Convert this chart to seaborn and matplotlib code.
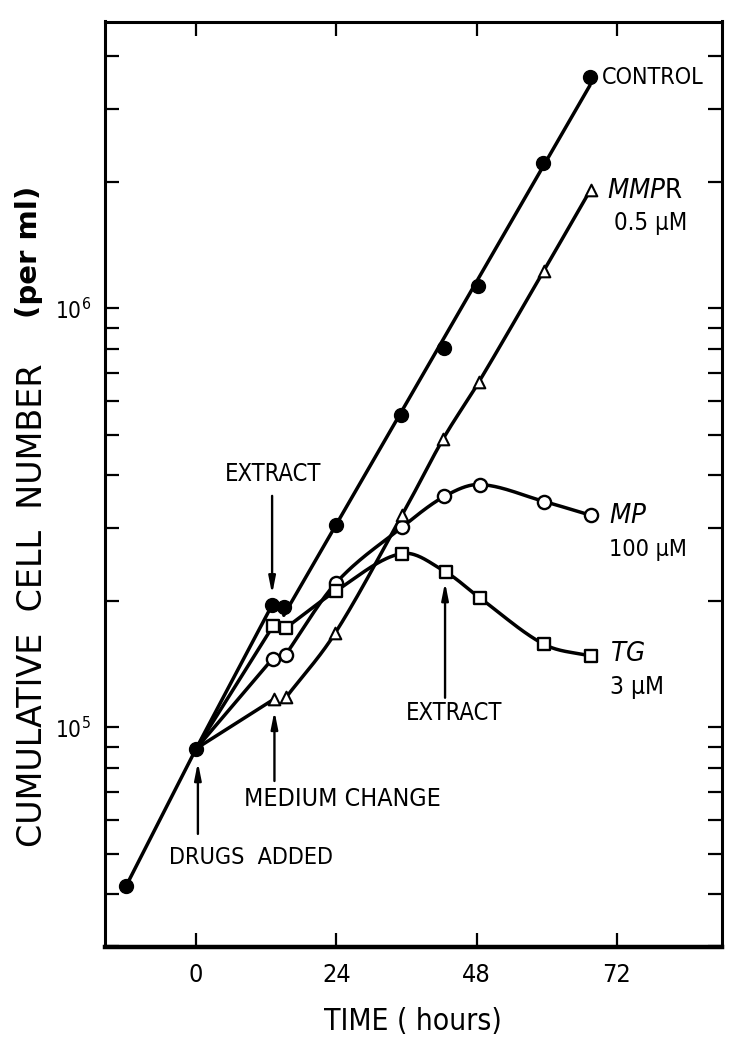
import numpy as np
import matplotlib
matplotlib.use("Agg")
import matplotlib.pyplot as plt
import matplotlib.font_manager as fm
import seaborn as sns
from matplotlib.ticker import FixedLocator, NullFormatter, FixedFormatter

# ---------------- data ----------------
control_t = [-12, 0, 13, 15, 24, 35, 42.5, 48.3, 59.4, 67.4]
control_n = [4.18e4, 8.9e4, 1.96e5, 1.94e5, 3.05e5, 5.58e5, 8.05e5, 1.13e6, 2.23e6, 3.56e6]

mmpr_t = [0, 13.4, 15.4, 23.8, 35.3, 42.3, 48.4, 59.5, 67.5]
mmpr_n = [8.9e4, 1.17e5, 1.18e5, 1.68e5, 3.22e5, 4.89e5, 6.68e5, 1.23e6, 1.92e6]

mp_t = [0, 13.1, 15.3, 23.9, 35.3, 42.5, 48.6, 59.6, 67.5]
mp_n = [8.9e4, 1.46e5, 1.49e5, 2.21e5, 3.01e5, 3.56e5, 3.80e5, 3.46e5, 3.21e5]

tg_t = [0, 13.2, 15.4, 24.0, 35.2, 42.7, 48.5, 59.5, 67.5]
tg_n = [8.9e4, 1.75e5, 1.73e5, 2.12e5, 2.60e5, 2.35e5, 2.04e5, 1.58e5, 1.48e5]

x_ticks = [0, 24, 48, 72]
x_tick_labels = ["0", "24", "48", "72"]
y_major = [1e5, 1e6]
y_major_labels = [r"$10^5$", r"$10^6$"]
y_minor = [m * d for d in (1e4, 1e5, 1e6) for m in range(2, 10)]

series_labels = ["CONTROL", "MMPR", "MP", "TG"]
conc_labels = ["0.5 \u03bcM", "100 \u03bcM", "3 \u03bcM"]

# ---------------- font choice (narrow if available) ----------------
_fonts = fm.fontManager.ttflist
_names = {f.name for f in _fonts}
STRETCH = "normal"
if "Liberation Sans Narrow" in _names:
    FONT, SF = "Liberation Sans Narrow", 1.0
elif any(f.name == "DejaVu Sans" and str(f.stretch) in ("condensed", "semi-condensed")
         for f in _fonts):
    FONT, SF, STRETCH = "DejaVu Sans", 0.86, "condensed"
else:
    FONT, SF = "Liberation Sans", 0.84

# ---------------- style ----------------
sns.set_style("ticks")
plt.rcParams["font.family"] = [FONT, "DejaVu Sans"]
plt.rcParams["font.stretch"] = STRETCH
plt.rcParams["mathtext.fontset"] = "custom"
plt.rcParams["mathtext.rm"] = FONT
plt.rcParams["mathtext.it"] = FONT + ":italic"
plt.rcParams["mathtext.default"] = "regular"
for k in ("text.color", "axes.labelcolor", "xtick.color", "ytick.color", "axes.edgecolor"):
    plt.rcParams[k] = "black"

W, H = 732, 1042
fig = plt.figure(figsize=(W / 100, H / 100), dpi=100)
fig.patch.set_facecolor("white")
ax = fig.add_axes([105 / W, 1 - 946.5 / H, 617 / W, 925 / H])
ax.set_facecolor("white")
ax.set_yscale("log")
ax.set_xlim(-15.6, 90.0)
ax.set_ylim(3.0e4, 4.84e6)

LW = 2.5
K = "black"


def hermite(xs, ys, n=40):
    """smooth drawing curve through the points, in (x, log y)"""
    x = np.asarray(xs, float)
    y = np.log10(np.asarray(ys, float))
    m = np.zeros_like(y)
    m[0] = (y[1] - y[0]) / (x[1] - x[0])
    m[-1] = (y[-1] - y[-2]) / (x[-1] - x[-2])
    for i in range(1, len(x) - 1):
        m[i] = (y[i + 1] - y[i - 1]) / (x[i + 1] - x[i - 1])
    ox, oy = [], []
    for i in range(len(x) - 1):
        h = x[i + 1] - x[i]
        t = np.linspace(0, 1, n)
        h00 = 2 * t**3 - 3 * t**2 + 1
        h10 = t**3 - 2 * t**2 + t
        h01 = -2 * t**3 + 3 * t**2
        h11 = t**3 - t**2
        yy = h00 * y[i] + h10 * h * m[i] + h01 * y[i + 1] + h11 * h * m[i + 1]
        ox.extend(x[i] + t * h)
        oy.extend(yy)
    return np.array(ox), 10 ** np.array(oy)


# --- control: -12 -> 0 -> 13 straight, then fitted straight line from 15 on
ax.plot(control_t[:3], control_n[:3], color=K, lw=LW, solid_capstyle="round")
ct = np.array(control_t[3:])
cl = np.log10(control_n[3:])
p = np.polyfit(ct, cl, 1)
xx = np.array([ct[0], ct[-1]])
ax.plot(xx, 10 ** np.polyval(p, xx), color=K, lw=LW)

# --- drug series: straight from 0 to the 13-h point, smooth after 15 h
for t, n in ((mmpr_t, mmpr_n), (mp_t, mp_n), (tg_t, tg_n)):
    ax.plot(t[:2], n[:2], color=K, lw=LW)
    sx, sy = hermite(t[2:], n[2:])
    ax.plot(sx, sy, color=K, lw=LW)

# --- markers via seaborn
sns.scatterplot(x=control_t, y=control_n, ax=ax, marker="o", s=100,
                color=K, edgecolor=K, linewidth=1, zorder=5)
sns.scatterplot(x=mp_t[1:], y=mp_n[1:], ax=ax, marker="o", s=90,
                facecolor="white", edgecolor=K, linewidth=1.7, zorder=5)
sns.scatterplot(x=tg_t[1:], y=tg_n[1:], ax=ax, marker="s", s=80,
                facecolor="white", edgecolor=K, linewidth=1.7, zorder=5)
sns.scatterplot(x=mmpr_t[1:], y=mmpr_n[1:], ax=ax, marker="^", s=70,
                facecolor="white", edgecolor=K, linewidth=1.5, zorder=5)

# ---------------- axes / ticks ----------------
for side in ("left", "right", "top"):
    ax.spines[side].set_visible(True)
    ax.spines[side].set_linewidth(2.2)
    ax.spines[side].set_color(K)
ax.spines["bottom"].set_linewidth(3.2)
ax.spines["bottom"].set_color(K)

ax.xaxis.set_major_locator(FixedLocator(x_ticks))
ax.xaxis.set_major_formatter(FixedFormatter(x_tick_labels))
ax.xaxis.set_minor_locator(FixedLocator([]))
ax.yaxis.set_major_locator(FixedLocator(y_major))
ax.yaxis.set_major_formatter(FixedFormatter(y_major_labels))
ax.yaxis.set_minor_locator(FixedLocator(y_minor))
ax.yaxis.set_minor_formatter(NullFormatter())

ax.tick_params(axis="both", which="both", direction="in", length=10, width=1.6,
               color=K, labelcolor=K, top=True, right=True,
               labeltop=False, labelright=False)
ax.tick_params(axis="x", which="major", labelsize=21 * SF, pad=12)
ax.tick_params(axis="y", which="major", labelsize=19 * SF, pad=10)

ax.set_xlabel("")
ax.set_ylabel("")
fig.text(413 / W, 1 - 1022 / H, "TIME ( hours)", ha="center", va="center",
         fontsize=25 * SF)
fig.text(33 / W, 1 - 605 / H, "CUMULATIVE  CELL  NUMBER", rotation=90,
         ha="center", va="center", fontsize=24, family=["DejaVu Sans"],
         stretch="normal")
fig.text(29 / W, 1 - 252 / H, "(per ml)", rotation=90, ha="center", va="center",
         fontsize=21, fontweight="bold", family=["DejaVu Sans"], stretch="normal")

# ---------------- annotations ----------------
arrow = dict(arrowstyle="-|>,head_length=1.0,head_width=0.2", color=K, lw=1.7,
             shrinkA=0, shrinkB=0)
ax.annotate("", xy=(13.0, 2.08e5), xytext=(13.0, 3.57e5), arrowprops=arrow)
ax.text(13.15, 4.03e5, "EXTRACT", ha="center", va="center", fontsize=19.8 * SF)

ax.annotate("", xy=(42.6, 2.22e5), xytext=(42.6, 1.177e5), arrowprops=arrow)
ax.text(44.1, 1.08e5, "EXTRACT", ha="center", va="center", fontsize=19.8 * SF)

ax.annotate("", xy=(13.4, 1.094e5), xytext=(13.4, 7.45e4), arrowprops=arrow)
ax.text(25.1, 6.75e4, "MEDIUM CHANGE", ha="center", va="center", fontsize=20.8 * SF)

ax.annotate("", xy=(0.3, 8.26e4), xytext=(0.3, 5.57e4), arrowprops=arrow)
ax.text(9.4, 4.9e4, "DRUGS  ADDED", ha="center", va="center", fontsize=19.5 * SF)

# ---------------- series labels ----------------
ax.text(69.5, 3.55e6, series_labels[0], ha="left", va="center", fontsize=19.5 * SF)
ax.text(70.4, 1.91e6, r"$\mathit{MMP}$" + "R", ha="left", va="center", fontsize=23 * SF)
ax.text(71.6, 1.6e6, conc_labels[0], ha="left", va="center", fontsize=20 * SF)
ax.text(70.7, 3.2e5, r"$\mathit{MP}$", ha="left", va="center", fontsize=23 * SF)
ax.text(70.7, 2.66e5, conc_labels[1], ha="left", va="center", fontsize=19.5 * SF)
ax.text(70.8, 1.50e5, r"$\mathit{TG}$", ha="left", va="center", fontsize=23 * SF)
ax.text(70.8, 1.246e5, conc_labels[2], ha="left", va="center", fontsize=20.5 * SF)

fig.savefig("out.png", dpi=100, facecolor="white")
